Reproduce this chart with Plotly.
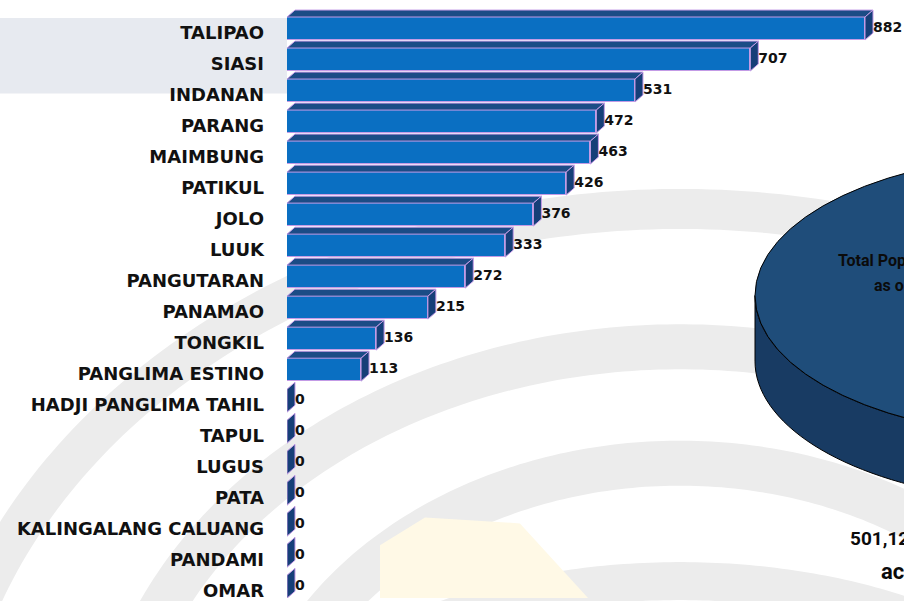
import numpy as np
import plotly.graph_objects as go

# ---------------- data ----------------
categories = ["TALIPAO", "SIASI", "INDANAN", "PARANG", "MAIMBUNG", "PATIKUL", "JOLO",
              "LUUK", "PANGUTARAN", "PANAMAO", "TONGKIL", "PANGLIMA ESTINO",
              "HADJI PANGLIMA TAHIL", "TAPUL", "LUGUS", "PATA",
              "KALINGALANG CALUANG", "PANDAMI", "OMAR"]
values = [882, 707, 531, 472, 463, 426, 376, 333, 272, 215, 136, 113,
          0, 0, 0, 0, 0, 0, 0]
value_labels = [str(v) for v in values]

# ---------------- layout constants ----------------
W, H = 904, 601
L_MARGIN = 287
PX_PER_UNIT = 578 / 882.0          # horizontal scale
ROW_PX = 31.17                      # vertical pitch
ROW0_PX = 32.7                      # centre of the first row
x_max = (W - L_MARGIN) / PX_PER_UNIT
y_top = -ROW0_PX / ROW_PX
y_bot = (H - ROW0_PX) / ROW_PX

BAR_W = 0.74
BAR_OFF = -0.50
DX = 8 / PX_PER_UNIT                # 3-D depth, x
DY = 7 / ROW_PX                     # 3-D depth, y

FRONT = "#0A6FC2"
TOP = "#1B4C86"
SIDE = "#163F78"
EDGE = "#C39BE6"

n = len(categories)
ypos = list(range(n))

fig = go.Figure()

# front faces
fig.add_trace(go.Bar(
    x=values, y=ypos, orientation="h", width=BAR_W, offset=BAR_OFF,
    marker=dict(color=FRONT, line=dict(color=EDGE, width=1)),
    hoverinfo="skip", showlegend=False))

# top faces and side faces (polygons built from the values)
tx, ty, sx, sy = [], [], [], []
for i, v in enumerate(values):
    y0 = i + BAR_OFF
    y1 = i + BAR_OFF + BAR_W
    if v > 0:
        tx += [0, v, v + DX, DX, 0, None]
        ty += [y0, y0, y0 - DY, y0 - DY, y0, None]
    sx += [v, v + DX, v + DX, v, v, None]
    sy += [y0, y0 - DY, y1 - DY, y1, y0, None]

fig.add_trace(go.Scatter(x=tx, y=ty, mode="lines", fill="toself", fillcolor=TOP,
                         line=dict(color=EDGE, width=1), hoverinfo="skip",
                         showlegend=False))
fig.add_trace(go.Scatter(x=sx, y=sy, mode="lines", fill="toself", fillcolor=SIDE,
                         line=dict(color=EDGE, width=1), hoverinfo="skip",
                         showlegend=False))

# value labels
fig.add_trace(go.Scatter(
    x=[v + DX for v in values], y=[i + BAR_OFF + BAR_W / 2 for i in ypos],
    mode="text", text=value_labels, textposition="middle right",
    textfont=dict(family="DejaVu Sans", size=14, color="#111111", weight="bold"),
    hoverinfo="skip", showlegend=False, cliponaxis=False))


# ---------------- decorations (pixel helpers) ----------------
def px(x):
    return (x - L_MARGIN) / (W - L_MARGIN)


def py(y):
    return 1 - y / H


def poly_path(pts, close=True):
    s = "M " + " L ".join(f"{px(x):.5f},{py(y):.5f}" for x, y in pts)
    return s + (" Z" if close else "")


shapes = []

# faint watermark: concentric gray arcs + pale yellow patch
wm_cx, wm_cy = 680, 800
rings = [(610, 762, 40), (474, 593, 45), (357, 446, 45), (235, 430, 38)]  # outer ry, outer rx, thickness
tt = np.linspace(np.pi, 2 * np.pi, 200)
for ry, rx, th in rings:
    rc_y, rc_x = ry - th / 2, rx - th / 2
    pts = [(wm_cx + rc_x * np.cos(t), wm_cy + rc_y * np.sin(t)) for t in tt]
    shapes.append(dict(type="path", xref="paper", yref="paper",
                       path=poly_path(pts, close=False),
                       line=dict(color="#ECECEC", width=th), layer="below"))
shapes.append(dict(type="path", xref="paper", yref="paper",
                   path=poly_path([(380, 548), (425, 520), (520, 526), (588, 601), (380, 601)]),
                   fillcolor="#FFF9E6", line=dict(width=0), layer="below"))

# light gray header band at top-left
shapes.append(dict(type="rect", xref="paper", yref="paper",
                   x0=px(0), x1=px(L_MARGIN), y0=py(18), y1=py(94),
                   fillcolor="#E7EAF0", line=dict(width=0), layer="below"))

# 3-D cylinder (total population disc) on the right, partly off-canvas
cx, cy, a, b, d = 1055, 297, 300, 142, 66
t = np.linspace(np.pi, 0, 80)
top_low = [(cx + a * np.cos(v), cy + b * np.sin(v)) for v in t]
bot_low = [(cx + a * np.cos(v), cy + d + b * np.sin(v)) for v in t]
shapes.append(dict(type="path", xref="paper", yref="paper",
                   path=poly_path(bot_low + top_low[::-1]),
                   fillcolor="#183B63", line=dict(color="#000000", width=1)))
shapes.append(dict(type="circle", xref="paper", yref="paper",
                   x0=px(cx - a), x1=px(cx + a), y0=py(cy + b), y1=py(cy - b),
                   fillcolor="#1F4D7A", line=dict(color="#000000", width=1)))

annotations = []
cond = "Roboto, Liberation Sans Narrow, sans-serif"
for txt, x, y, size in [("Total Pop", 836, 262, 16), ("as o", 872, 287, 16),
                        ("501,12", 848, 541, 19), ("ac", 879, 574, 22)]:
    annotations.append(dict(text=txt, xref="paper", yref="paper", x=px(x), y=py(y),
                            xanchor="left", yanchor="middle", showarrow=False,
                            font=dict(family=cond, size=size, color="#0B0B0B",
                                      weight="bold")))

fig.update_layout(
    width=W, height=H,
    margin=dict(l=L_MARGIN, r=0, t=0, b=0),
    paper_bgcolor="#FFFFFF", plot_bgcolor="rgba(0,0,0,0)",
    shapes=shapes, annotations=annotations,
    bargap=0,
    xaxis=dict(range=[0, x_max], visible=False, fixedrange=True),
    yaxis=dict(range=[y_bot, y_top], tickmode="array", tickvals=ypos,
               ticktext=categories, showgrid=False, zeroline=False, showline=False,
               ticks="", ticklabelstandoff=22, fixedrange=True,
               ticklabeloverflow="allow",
               tickfont=dict(family="DejaVu Sans", size=18, color="#111111",
                             weight="bold")),
)

page_fix = ("document.documentElement.style.overflow='hidden';"
            "document.body.style.margin='0';"
            "document.body.style.overflow='hidden';"
            "window.scrollTo(0,0);")
fig.write_html("out.html", config={"displayModeBar": False}, post_script=page_fix)
